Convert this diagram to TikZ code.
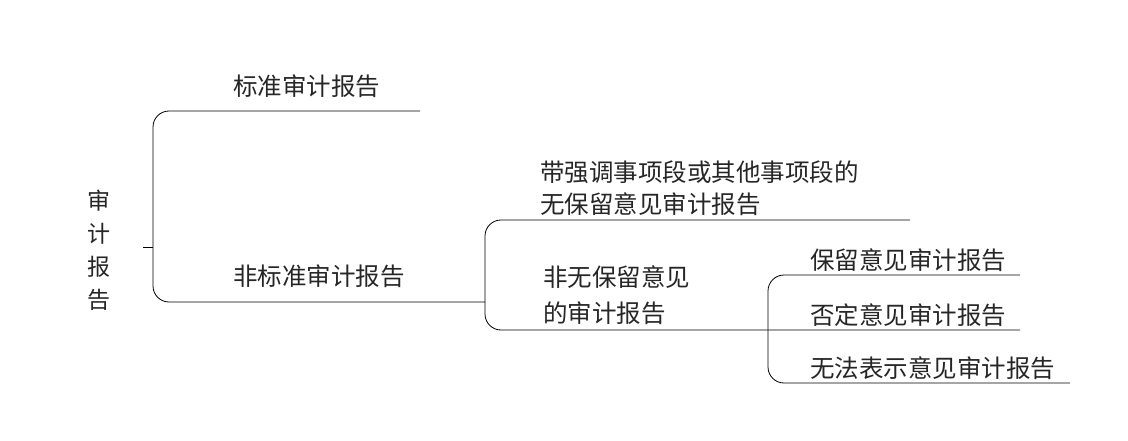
\documentclass[tikz,border=0pt]{standalone}
\usepackage{fontspec}
\setmainfont{Noto Sans CJK SC}
\usetikzlibrary{positioning}
\tikzset{
  lbl/.style  = {anchor=west, inner sep=0pt, font=\fontsize{24.5}{28}\selectfont, text=black!85},
  rail/.style = {black, line width=0.8pt, rounded corners=16pt}
}
\begin{document}
\begin{tikzpicture}[x=1pt, y=-1pt]
    \useasboundingbox (0,0) rectangle (1128,441);

    % ----- Root -----
    \node[lbl, anchor=center, align=center, font=\fontsize{23}{33}\selectfont] (root) at (99,250) {审\\计\\报\\告};
    \coordinate (rootend) at (143,247);
    \coordinate (b1) at (153,247);
    \draw[black, line width=0.8pt] (rootend) -- (b1);

    % ----- Level 1 -----
    \coordinate (std) at (420,111);
    \coordinate (nonstd) at (485,302);
    \draw[rail] (std) -- (153,111) -- (153,302) -- (nonstd);
    \node[lbl] (stdlbl) at (233,86) {标准审计报告};
    \node[lbl] (nonstdlbl) at (233,276) {非标准审计报告};

    % ----- Level 2 -----
    \coordinate (emph) at (910,220);
    \coordinate (mod) at (1020,330);
    \draw[rail] (emph) -- (485,220) -- (485,330) -- (mod);
    \node[lbl] (emphA) at (540,172) {带强调事项段或其他事项段的};
    \node[lbl] (emphB) at (540,204) {无保留意见审计报告};
    \node[lbl] (modA) at (543,277) {非无保留意见};
    \node[lbl] (modB) at (543,313) {的审计报告};

    % ----- Level 3 -----
    \coordinate (qual) at (1020,275);
    \coordinate (disc) at (1070,383);
    \draw[rail] (qual) -- (768,275) -- (768,383) -- (disc);
    \node[lbl] (quallbl) at (810,260) {保留意见审计报告};
    \node[lbl] (advlbl) at (810,315) {否定意见审计报告};
    \node[lbl] (disclbl) at (810,368) {无法表示意见审计报告};
\end{tikzpicture}
\end{document}
